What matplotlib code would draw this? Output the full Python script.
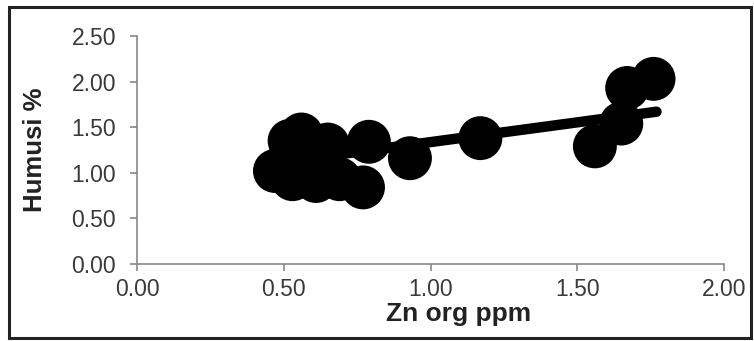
import numpy as np
import matplotlib
matplotlib.use("Agg")
import matplotlib.pyplot as plt
from matplotlib.patches import Rectangle

# data
zn_org = [0.47, 0.52, 0.56, 0.65, 0.79, 0.53, 0.61, 0.69, 0.77, 0.49, 0.60,
          0.93, 1.17, 1.56, 1.65, 1.67, 1.76]
humus = [1.02, 1.35, 1.42, 1.31, 1.34, 0.93, 0.91, 0.93, 0.84, 1.05, 1.12,
         1.16, 1.38, 1.29, 1.54, 1.93, 2.03]

trend_x = [0.50, 1.77]
trend_y = [1.12, 1.67]

x_ticks = [0.0, 0.5, 1.0, 1.5, 2.0]
y_ticks = [0.0, 0.5, 1.0, 1.5, 2.0, 2.5]

plt.rcParams['font.family'] = ['Liberation Sans', 'DejaVu Sans']

fig = plt.figure(figsize=(7.54, 3.41), dpi=100)
ax = fig.add_axes([137 / 754, 1 - 264 / 341, 587 / 754, 228 / 341])

ax.plot(trend_x, trend_y, color='black', linewidth=7.5, solid_capstyle='round', zorder=2)
ax.scatter(zn_org, humus, s=1000, color='black', edgecolors='none', zorder=3)

ax.set_xlim(0, 2)
ax.set_ylim(0, 2.5)
ax.set_xticks(x_ticks)
ax.set_yticks(y_ticks)
ax.set_xticklabels(['%.2f' % v for v in x_ticks])
ax.set_yticklabels(['%.2f' % v for v in y_ticks])

for s in ['top', 'right']:
    ax.spines[s].set_visible(False)
for s in ['left', 'bottom']:
    ax.spines[s].set_color('#888888')
    ax.spines[s].set_linewidth(1.2)
ax.tick_params(axis='both', direction='out', length=5, width=1.2, color='#888888',
               labelsize=16.5, labelcolor='#3a3a3a')
ax.tick_params(axis='x', pad=5)
ax.tick_params(axis='y', pad=10)

ax.set_xlabel('Zn org ppm', fontsize=19, fontweight='bold', color='#222222')
ax.xaxis.set_label_coords(0.547, -0.165)
ax.set_ylabel('Humusi %', fontsize=18.5, fontweight='bold', color='#222222', labelpad=18)

# outer frame
fig.patches.append(Rectangle((9 / 754, 3 / 341), 742 / 754, 331 / 341,
                             transform=fig.transFigure, fill=False,
                             edgecolor='#222222', linewidth=2.2))

fig.savefig('out.png', dpi=100)
